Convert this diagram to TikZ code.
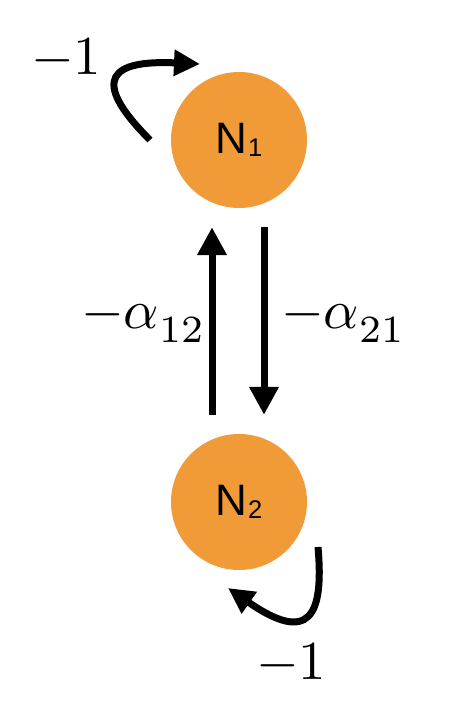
\documentclass[tikz,border=0pt]{standalone}
\usepackage{graphicx}
\usepackage{fontspec}
\newfontfamily\nfont{Liberation Sans}
\usetikzlibrary{arrows.meta}
\definecolor{nodeorange}{RGB}{240,154,56}
\newcommand\biglab[1]{\scalebox{5.5}{#1}}
\newcommand\nlab[1]{\scalebox{4.4}{\nfont\fontsize{10}{10}\selectfont N\kern0.2pt\lower0.6pt\hbox{\nfont\fontsize{5.8}{5.8}\selectfont #1}}}
\begin{document}
\begin{tikzpicture}[x=1pt,y=-1pt,
  circ/.style={circle,fill=nodeorange,minimum size=136pt,inner sep=0pt},
  lab/.style={inner sep=0pt,anchor=base west},
  link/.style={line width=7pt,-{Triangle[length=28pt,width=28pt]},
    shorten <=19pt,shorten >=19pt},
  selfloop/.style={line width=7pt,-{Triangle[length=26pt,width=25pt]}}]
\useasboundingbox (0,0) rectangle (448,718);
\node[circ] (n1) at (239,140) {\nlab{1}};
\node[circ] (n2) at (239,502) {\nlab{2}};
\draw[link] ([xshift=-27pt]n2.north) -- ([xshift=-27pt]n1.south);
\draw[link] ([xshift=25pt]n1.south) -- ([xshift=25pt]n2.north);
\coordinate (l1s) at (150,140);
\coordinate (l1e) at (200,64);
\draw[selfloop] (l1s) .. controls (88,78) and (112,60) .. (l1e);
\coordinate (l2s) at (318,547);
\coordinate (l2e) at (228,588);
\draw[selfloop] (l2s) .. controls (324,615) and (310,645) .. (l2e);
\node[lab] (m1) at (31,74) {\biglab{$-1$}};
\node[lab] (m2) at (256,679) {\biglab{$-1$}};
\node[lab] (a12) at (81,328) {\biglab{$-\alpha_{\lower1.2pt\hbox{$\scriptstyle 12$}}$}};
\node[lab] (a21) at (281,328) {\biglab{$-\alpha_{\lower1.2pt\hbox{$\scriptstyle 21$}}$}};
\end{tikzpicture}
\end{document}
